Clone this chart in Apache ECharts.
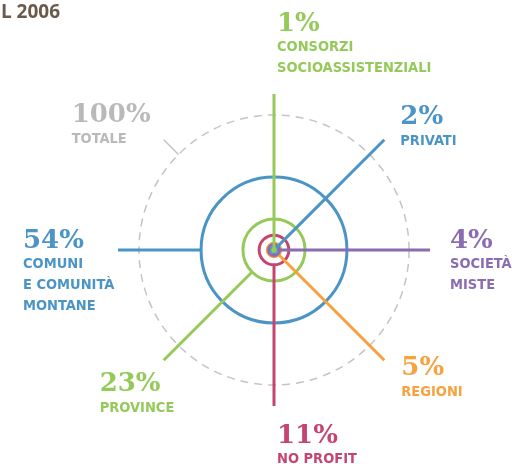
<!DOCTYPE html>
<html>
<head>
<meta charset="utf-8">
<script src="https://cdn.jsdelivr.net/npm/echarts@6/dist/echarts.min.js"></script>
<style>
  html, body { margin: 0; padding: 0; background: #fff; }
  #chart { width: 512px; height: 464px; }
</style>
</head>
<body>
<div id="chart"></div>
<script>
// dati: quote per ente gestore (percentuale)
var percentLabels = ['1%', '2%', '4%', '5%', '11%', '23%', '54%'];
var categories = ['CONSORZI\nSOCIOASSISTENZIALI', 'PRIVATI', 'SOCIETÀ\nMISTE', 'REGIONI', 'NO PROFIT', 'PROVINCE', 'COMUNI\nE COMUNITÀ\nMONTANE'];
var values = [1, 2, 4, 5, 11, 23, 54];
var angles = [0, 45, 90, 135, 180, 225, 270];
var totalValue = 100;
var totalAngle = 315;
var totalLabel = ['100%', 'TOTALE'];

// stile
var colors = ['#95c95a', '#4b94c6', '#8a6cb0', '#f7a23e', '#c4456e', '#95c95a', '#4b94c6'];
var grayText = '#b9b9b9';
var grayLine = '#c4c4c4';
var rayEnd = 115.5; // lunghezza raggi, in unità dell'asse
// posizione etichette rispetto alla fine del raggio [dx, dy] (baseline del valore)
var labelOffsets = [[3, -62], [16, -14], [20, -1], [17, 16], [3, 38], [-64, 32], [-95, -1]];
var totalOffset = [-92, -16];

var pctFont = 'bold 26px "DejaVu Serif"';
var catFont = 'bold condensed 14.5px "DejaVu Sans Condensed", "DejaVu Sans"';

var chart = echarts.init(document.getElementById('chart'));

// disegna dal più grande al più piccolo
var order = values.map(function (v, i) { return i; }).sort(function (a, b) { return values[b] - values[a]; });
var items = order.map(function (i) { return [values[i], angles[i], i]; });

function pxRadius(api, v) {
  var c = api.coord([0, 0]);
  var p = api.coord([v, 0]);
  return { cx: c[0], cy: c[1], r: Math.sqrt((p[0] - c[0]) * (p[0] - c[0]) + (p[1] - c[1]) * (p[1] - c[1])) };
}

function labelGroup(x, y, pct, cat, color) {
  return [
    { type: 'text', style: { x: x, y: y - 8, text: pct, font: pctFont, fill: color, verticalAlign: 'middle' } },
    { type: 'text', style: { x: x, y: y + 5, text: cat, font: catFont, fill: color, lineHeight: 21, verticalAlign: 'top' } }
  ];
}

chart.setOption({
  animation: false,
  polar: { center: [274, 250], radius: 156 },
  angleAxis: { type: 'value', min: 0, max: 360, startAngle: 90, clockwise: true, show: false },
  radiusAxis: { type: 'value', min: 0, max: rayEnd, show: false },
  graphic: [{
    type: 'text', right: 452, top: 3,
    style: { text: 'NEL 2006', font: 'bold 19px "Open Sans"', fill: '#6b5a4c' }
  }],
  series: [{
    type: 'custom',
    coordinateSystem: 'polar',
    silent: true,
    data: [[totalValue, totalAngle, -1]],
    renderItem: function (params, api) {
      var g = pxRadius(api, api.value(0));
      var a = api.coord([api.value(0), api.value(1)]);
      var b = api.coord([rayEnd, api.value(1)]);
      var off = totalOffset;
      return {
        type: 'group',
        children: [
          { type: 'circle', shape: { cx: g.cx, cy: g.cy, r: g.r }, style: { fill: 'none', stroke: grayLine, lineWidth: 1.5, lineDash: [8, 6] } },
          { type: 'line', shape: { x1: a[0], y1: a[1], x2: b[0], y2: b[1] }, style: { stroke: grayLine, lineWidth: 1.5 } }
        ].concat(labelGroup(b[0] + off[0], b[1] + off[1], totalLabel[0], totalLabel[1], grayText))
      };
    }
  }, {
    type: 'custom',
    coordinateSystem: 'polar',
    silent: true,
    data: items,
    renderItem: function (params, api) {
      var i = api.value(2);
      var v = api.value(0);
      var ang = api.value(1);
      var g = pxRadius(api, v);
      var a = api.coord([v, ang]);
      var b = api.coord([rayEnd, ang]);
      var off = labelOffsets[i];
      return {
        type: 'group',
        children: [
          { type: 'line', shape: { x1: a[0], y1: a[1], x2: b[0], y2: b[1] }, style: { stroke: colors[i], lineWidth: 3 } },
          { type: 'circle', shape: { cx: g.cx, cy: g.cy, r: g.r }, style: { fill: 'none', stroke: colors[i], lineWidth: 3 } }
        ].concat(labelGroup(b[0] + off[0], b[1] + off[1], percentLabels[i], categories[i], colors[i]))
      };
    }
  }]
});
</script>
</body>
</html>
